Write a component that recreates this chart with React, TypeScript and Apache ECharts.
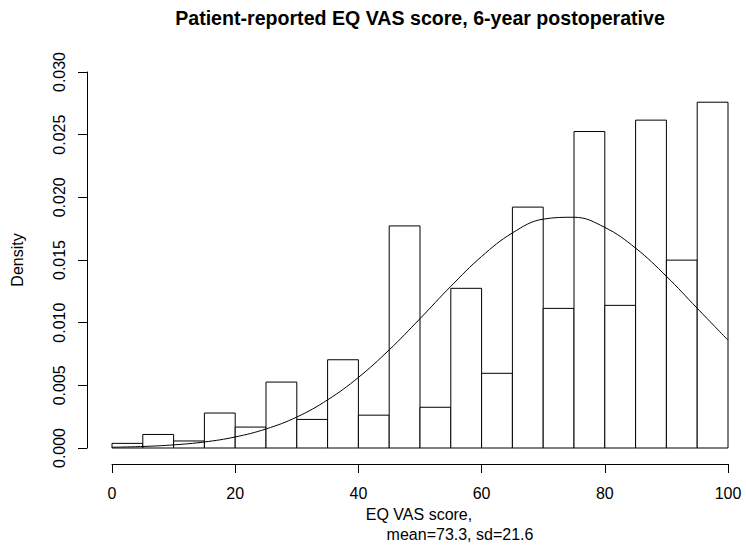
import React, { useEffect, useRef } from "react";
import * as echarts from "echarts";

// Histogram bins (lower edges, width 5) and densities
const binStarts = [0, 5, 10, 15, 20, 25, 30, 35, 40, 45, 50, 55, 60, 65, 70, 75, 80, 85, 90, 95];
const binWidth = 5;
const densities = [
  0.00037, 0.00108, 0.00056, 0.00279, 0.00167, 0.00526, 0.00228, 0.00704, 0.00262, 0.01772,
  0.00325, 0.01274, 0.00596, 0.01922, 0.01114, 0.02525, 0.01138, 0.02616, 0.01499, 0.02759,
];

// Density curve points
const curveX = [0, 5, 10, 15, 20, 25, 30, 35, 40, 45, 50, 55, 60, 65, 70, 75, 80, 85, 90, 95, 100];
const curveY = [
  0.00006, 0.00012, 0.00025, 0.00048, 0.00088, 0.00152, 0.00247, 0.00384, 0.00563, 0.00783,
  0.01032, 0.0129, 0.01528, 0.01716, 0.01826, 0.01841, 0.0176, 0.01595, 0.0137, 0.01115, 0.0086,
];

const xTicks = [0, 20, 40, 60, 80, 100];
const yTicks = [0, 0.005, 0.01, 0.015, 0.02, 0.025, 0.03];

const FONT = "'Liberation Sans', Arial, sans-serif";

export default function App() {
  const ref = useRef<HTMLDivElement>(null);
  useEffect(() => {
    if (!ref.current) return;
    const chart = echarts.init(ref.current, null, { renderer: "svg" });
    const barData = binStarts.map((s, i) => [s, s + binWidth, densities[i]]);
    chart.setOption({
      animation: false,
      backgroundColor: "#ffffff",
      textStyle: { fontFamily: FONT },
      grid: { left: 112, right: 18, top: 72, bottom: 99, containLabel: false },
      xAxis: {
        type: "value",
        min: xTicks[0],
        max: xTicks[xTicks.length - 1],
        interval: 20,
        offset: 16,
        axisLine: { show: true, onZero: false, lineStyle: { color: "#000", width: 1 } },
        axisTick: { show: true, length: 9, lineStyle: { color: "#000" } },
        axisLabel: { color: "#000", fontSize: 16, fontFamily: FONT, margin: 21 },
        splitLine: { show: false },
      },
      yAxis: {
        type: "value",
        min: yTicks[0],
        max: yTicks[yTicks.length - 1],
        interval: 0.005,
        offset: 25,
        axisLine: { show: true, onZero: false, lineStyle: { color: "#000", width: 1 } },
        axisTick: { show: true, length: 9, lineStyle: { color: "#000" } },
        axisLabel: {
          color: "#000",
          fontSize: 16,
          fontFamily: FONT,
          rotate: 90,
          margin: 20,
          formatter: (v: number) => v.toFixed(3),
        },
        splitLine: { show: false },
      },
      graphic: [
        {
          type: "text",
          x: 420,
          y: 18,
          style: {
            text: "Patient-reported EQ VAS score, 6-year postoperative",
            font: `bold 19.6px ${FONT}`,
            fill: "#000",
            align: "center",
            verticalAlign: "middle",
          },
        },
        {
          type: "text",
          x: 17,
          y: 260,
          rotation: Math.PI / 2,
          style: {
            text: "Density",
            font: `16px ${FONT}`,
            fill: "#000",
            align: "center",
            verticalAlign: "middle",
          },
        },
        {
          type: "text",
          x: 419,
          y: 514,
          style: {
            text: "EQ VAS score,",
            font: `16px ${FONT}`,
            fill: "#000",
            align: "center",
            verticalAlign: "middle",
          },
        },
        {
          type: "text",
          x: 460,
          y: 534,
          style: {
            text: "mean=73.3, sd=21.6",
            font: `16px ${FONT}`,
            fill: "#000",
            align: "center",
            verticalAlign: "middle",
          },
        },
      ],
      series: [
        {
          type: "custom",
          data: barData,
          encode: { x: [0, 1], y: 2 },
          renderItem: (params: any, api: any) => {
            const x0 = api.value(0);
            const x1 = api.value(1);
            const v = api.value(2);
            const p0 = api.coord([x0, v]);
            const p1 = api.coord([x1, 0]);
            return {
              type: "rect",
              shape: { x: p0[0], y: p0[1], width: p1[0] - p0[0], height: p1[1] - p0[1] },
              style: { fill: "#ffffff", stroke: "#000000", lineWidth: 1 },
            };
          },
          z: 1,
        },
        {
          type: "line",
          data: curveX.map((x, i) => [x, curveY[i]]),
          smooth: 0.4,
          showSymbol: false,
          symbol: "none",
          lineStyle: { color: "#000", width: 1 },
          z: 2,
        },
      ],
    });
    return () => chart.dispose();
  }, []);
  return (
    <div
      ref={ref}
      style={{ position: "absolute", left: 0, top: 0, width: 746, height: 547 }}
    />
  );
}
